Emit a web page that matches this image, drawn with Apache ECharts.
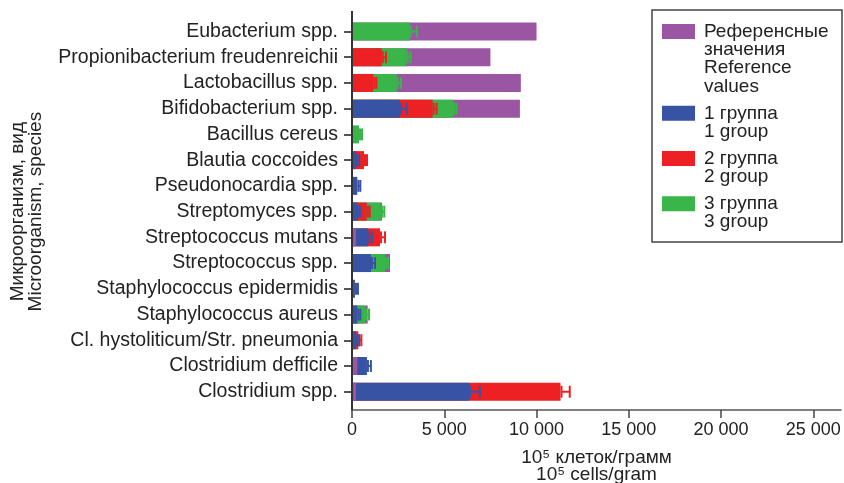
<!DOCTYPE html>
<html>
<head>
<meta charset="utf-8">
<script src="https://cdn.jsdelivr.net/npm/echarts@6/dist/echarts.min.js"></script>
<style>
html,body{margin:0;padding:0;background:#fff;}
#c{width:844px;height:483px;}
</style>
</head>
<body>
<div id="c"></div>
<script>
const categories = ['Eubacterium spp.', 'Propionibacterium freudenreichii', 'Lactobacillus spp.', 'Bifidobacterium spp.', 'Bacillus cereus', 'Blautia coccoides', 'Pseudonocardia spp.', 'Streptomyces spp.', 'Streptococcus mutans', 'Streptococcus spp.', 'Staphylococcus epidermidis', 'Staphylococcus aureus', 'Cl. hystoliticum/Str. pneumonia', 'Clostridium defficile', 'Clostridium spp.'];
const reference = [10000, 7500, 9150, 9100, null, null, null, 1630, 220, 2060, null, 850, null, 290, 220];
const referenceErr = [0, 0, 0, 0, 0, 0, 0, 0, 0, 0, 0, 0, 0, 0, 0];
const group1 = [null, null, null, 2600, null, 220, 290, 300, 880, 1030, 160, 290, 220, 810, 6350];
const group1Err = [0, 0, 0, 360, 0, 60, 90, 90, 215, 215, 50, 60, 60, 215, 580];
const group2 = [null, 1610, 1160, 4370, null, 650, null, 800, 1520, null, null, null, 345, null, 11300];
const group2Err = [0, 230, 130, 215, 0, 145, 0, 90, 270, 0, 0, 0, 110, 0, 500];
const group3 = [3130, 2960, 2420, 5480, 380, null, null, 1570, null, 1790, null, 705, null, null, null];
const group3Err = [380, 215, 235, 180, 110, 0, 0, 180, 0, 150, 0, 215, 0, 0, 0];
const xTicks = [0, 5000, 10000, 15000, 20000, 25000];
const legendLabels = ['Референсные\nзначения\nReference\nvalues', '1 группа\n1 group', '2 группа\n2 group', '3 группа\n3 group'];
const colors = ['#9a56a2', '#3953a4', '#ed2024', '#39b54a'];

const groups = [[reference, referenceErr], [group1, group1Err], [group2, group2Err], [group3, group3Err]];
const FONT = '"Liberation Sans", Arial, Helvetica, sans-serif';

// rank per category: largest value drawn at the back
function rankOf(gi, ci) {
  const present = groups.map((g, k) => ({k, v: g[0][ci]})).filter(o => o.v != null).sort((a, b) => b.v - a.v);
  return present.findIndex(o => o.k === gi);
}

function makeSeries(gi) {
  const [vals, errs] = groups[gi];
  const data = [];
  vals.forEach((v, ci) => { if (v != null) data.push([v, ci, errs[ci] || 0, rankOf(gi, ci)]); });
  const color = colors[gi];
  return {
    type: 'custom',
    name: legendLabels[gi],
    itemStyle: {color},
    encode: {x: 0, y: 1},
    data,
    renderItem: function (params, api) {
      const v = api.value(0), ci = api.value(1), e = api.value(2), rk = api.value(3);
      const p0 = api.coord([0, ci]);
      const p1 = api.coord([v, ci]);
      const band = api.size([0, 1])[1];
      const h = band * 0.7;
      const children = [{
        type: 'rect',
        shape: {x: p0[0], y: p1[1] - h / 2, width: p1[0] - p0[0], height: h},
        style: {fill: color},
        z2: rk * 10
      }];
      if (e > 0) {
        const pe = api.coord([v + e, ci]);
        const ch = h * 0.66;
        const xl = p1[0] + 1;
        const xr = Math.max(pe[0], xl + 2);
        children.push({type: 'line', shape: {x1: xl, y1: p1[1], x2: xr, y2: p1[1]}, style: {stroke: color, lineWidth: 2}, z2: rk * 10 + 1});
        children.push({type: 'line', shape: {x1: xl, y1: p1[1] - ch / 2, x2: xl, y2: p1[1] + ch / 2}, style: {stroke: color, lineWidth: 2}, z2: rk * 10 + 1});
        children.push({type: 'line', shape: {x1: xr, y1: p1[1] - ch / 2, x2: xr, y2: p1[1] + ch / 2}, style: {stroke: color, lineWidth: 2}, z2: rk * 10 + 1});
      }
      return {type: 'group', children};
    }
  };
}

const gridTop = 18.6, gridBottomY = 404.6, axisX = 352, axisYTop = 11, axisYBottom = 410;

const legendGraphics = [];
legendGraphics.push({type: 'rect', shape: {x: 652, y: 10, width: 190, height: 232}, style: {fill: 'none', stroke: '#444', lineWidth: 1.5}});
let ly = 24;
const LH = 18.3;
legendLabels.forEach((lab, i) => {
  const n = lab.split('\n').length;
  legendGraphics.push({type: 'rect', shape: {x: 662, y: ly, width: 33, height: 15}, style: {fill: colors[i]}});
  legendGraphics.push({type: 'text', x: 704, y: ly + 7.5 - LH / 2, style: {text: lab, font: '19px ' + FONT, lineHeight: LH, fill: '#222', verticalAlign: 'top'}});
  ly += n * LH + 8.6;
});

const chart = echarts.init(document.getElementById('c'), null, {renderer: 'canvas'});
chart.setOption({
  backgroundColor: '#fff',
  animation: false,
  textStyle: {fontFamily: FONT},
  grid: {left: axisX, right: 3, top: gridTop, bottom: 483 - gridBottomY, containLabel: false, outerBoundsMode: 'none'},
  xAxis: {
    type: 'value', min: 0, max: 26500, interval: 5000,
    offset: axisYBottom - gridBottomY,
    splitLine: {show: false},
    axisLine: {show: true, lineStyle: {color: '#555', width: 1.5}},
    axisTick: {show: true, length: 8, customValues: xTicks, lineStyle: {color: '#444', width: 1.5}},
    axisLabel: {
      customValues: xTicks, fontSize: 18, color: '#222', margin: 11, fontFamily: FONT,
      formatter: v => String(v).replace(/\B(?=(\d{3})+(?!\d))/g, ' ')
    },
    name: '10⁵ клеток/грамм\n10⁵ cells/gram',
    nameLocation: 'middle', nameGap: 39,
    nameTextStyle: {fontSize: 19, color: '#222', lineHeight: 17, fontFamily: FONT}
  },
  yAxis: {
    type: 'category', data: categories, inverse: true,
    axisLine: {show: false},
    axisTick: {show: true, alignWithLabel: true, interval: 0, length: 8, lineStyle: {color: '#555', width: 2}},
    axisLabel: {interval: 0, fontSize: 19.5, color: '#222', margin: 14, fontFamily: FONT, hideOverlap: false},
    name: 'Микроорганизм, вид\nMicroorganism, species',
    nameLocation: 'middle', nameRotate: 90, nameGap: 307,
    nameTextStyle: {fontSize: 19, color: '#222', lineHeight: 18, fontFamily: FONT}
  },
  graphic: [
    {type: 'line', z: 100, shape: {x1: axisX, y1: axisYTop, x2: axisX, y2: axisYBottom}, style: {stroke: '#333', lineWidth: 2}},
    ...legendGraphics
  ],
  series: [0, 1, 2, 3].map(makeSeries)
});
</script>
</body>
</html>
